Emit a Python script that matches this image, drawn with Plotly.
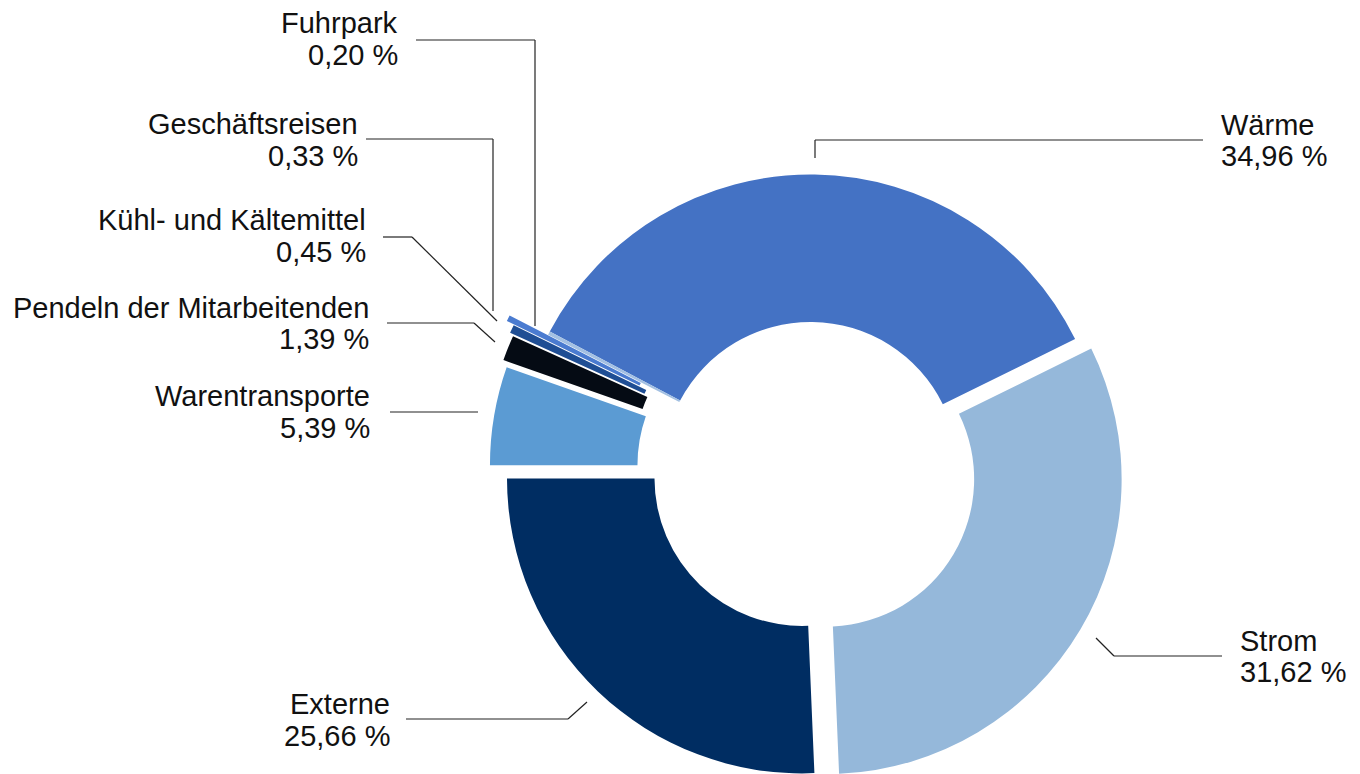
import math
import plotly.graph_objects as go

# ---------------- data ----------------
categories = [
    "Wärme",
    "Strom",
    "Externe",
    "Warentransporte",
    "Pendeln der Mitarbeitenden",
    "Kühl- und Kältemittel",
    "Geschäftsreisen",
    "Fuhrpark",
]
shares = [34.96, 31.62, 25.66, 5.39, 1.39, 0.45, 0.33, 0.20]
share_labels = ["34,96 %", "31,62 %", "25,66 %", "5,39 %", "1,39 %", "0,45 %", "0,33 %", "0,20 %"]

# ---------------- style ----------------
colors = ["#4472C4", "#95B8DA", "#002D62", "#5B9BD3", "#050B14", "#1F4E94", "#4A7BD0", "#A3C0E2"]
pull_px = [0, 18.8, 12.3, 25.9, 31, 35, 43, 0]   # explosion distance of each slice in px

W, H = 1360, 774
CX, CY = 810.5, 469.5      # pie centre (px from top-left)
R = 295.0                  # outer radius px
HOLE = 0.5
ROTATION = -62.1           # start angle of the first slice (deg, clockwise from 12 o'clock)

FONT = "Liberation Sans, Arial, Helvetica, sans-serif"
FS = 29
LINE_COLOR = "#222222"


def px(x, y):
    return x / W, 1 - y / H


fig = go.Figure()
total = sum(shares)
cum = 0.0
for i, v in enumerate(shares):
    mid = math.radians(ROTATION + 360.0 * (cum + v / 2) / total)
    cum += v
    cx = CX + pull_px[i] * math.sin(mid)
    cy = CY - pull_px[i] * math.cos(mid)
    x0, y1 = px(cx - R, cy - R)
    x1, y0 = px(cx + R, cy + R)
    cols = [c if j == i else "rgba(0,0,0,0)" for j, c in enumerate(colors)]
    fig.add_trace(go.Pie(
        values=shares,
        labels=categories,
        sort=False,
        direction="clockwise",
        rotation=ROTATION,
        hole=HOLE,
        marker=dict(colors=cols, line=dict(width=0)),
        textinfo="none",
        hoverinfo="none",
        showlegend=False,
        domain=dict(x=[max(0, x0), min(1, x1)], y=[max(0, y0), min(1, y1)]),
    ))

# ---------------- leader lines (px polylines) ----------------
leaders = [
    [(815, 158), (815, 140), (1203, 140)],                 # Wärme
    [(1096, 638), (1114, 656), (1222, 656)],               # Strom
    [(587, 702), (568, 719), (406, 719)],                  # Externe
    [(478, 412), (390, 412)],                              # Warentransporte
    [(495, 342), (474, 323), (387, 323)],                  # Pendeln
    [(497, 321), (412, 237), (383, 237)],                  # Kühl
    [(493, 311), (493, 139), (366, 139)],                  # Geschäftsreisen
    [(535, 326), (535, 40), (416, 40)],                    # Fuhrpark
]
for pts in leaders:
    for (xa, ya), (xb, yb) in zip(pts[:-1], pts[1:]):
        pa, pb = px(xa, ya), px(xb, yb)
        fig.add_shape(type="line", xref="paper", yref="paper",
                      x0=pa[0], y0=pa[1], x1=pb[0], y1=pb[1],
                      line=dict(color=LINE_COLOR, width=1.2))

# ---------------- labels ----------------
# (anchor x px, name-line centre y px, value-line centre y px, side)
label_pos = [
    (1219, 125, 156, "left"),
    (1238, 641, 672, "left"),
    (392, 704, 736, "right"),
    (372, 396, 428, "right"),
    (371, 308, 339, "right"),
    (368, 220, 252, "right"),
    (360, 124, 156, "right"),
    (400, 23, 55, "right"),
]
for name, val, (ax, y1p, y2p, side) in zip(categories, share_labels, label_pos):
    for txt, yy in ((name, y1p), (val, y2p)):
        xx, yy2 = px(ax, yy)
        fig.add_annotation(text=txt, x=xx, y=yy2, xref="paper", yref="paper",
                           xanchor=side, yanchor="middle", showarrow=False,
                           font=dict(family=FONT, size=FS, color="#111111"))

fig.update_layout(
    width=W, height=H,
    margin=dict(l=0, r=0, t=0, b=0),
    paper_bgcolor="white", plot_bgcolor="white",
    showlegend=False,
)

fig.write_html("out.html")
